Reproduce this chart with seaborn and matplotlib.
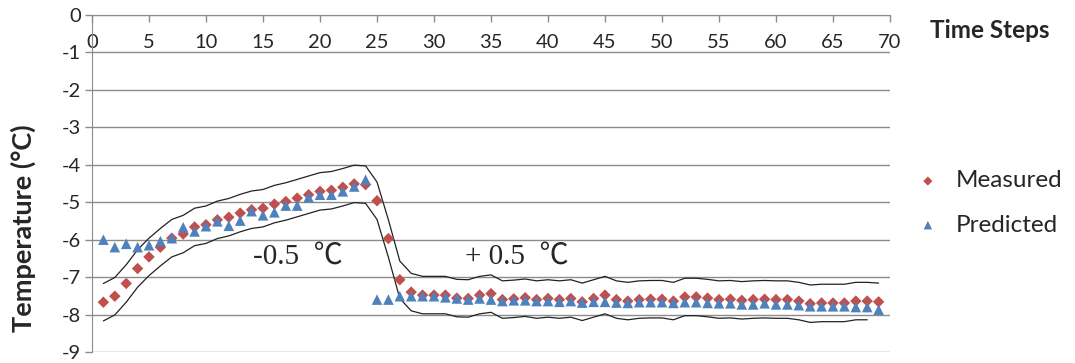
import matplotlib
matplotlib.use('Agg')
import matplotlib.pyplot as plt
import pandas as pd
import seaborn as sns

# values
time_steps = list(range(1, 70))
measured = [-7.67, -7.51, -7.17, -6.77, -6.46, -6.20, -5.96, -5.85, -5.66, -5.60,
            -5.47, -5.40, -5.29, -5.20, -5.16, -5.05, -4.98, -4.89, -4.80, -4.71,
            -4.68, -4.60, -4.51, -4.53, -4.96, -5.97, -7.07, -7.40, -7.48, -7.48,
            -7.48, -7.56, -7.57, -7.48, -7.44, -7.60, -7.58, -7.55, -7.60, -7.57,
            -7.60, -7.57, -7.66, -7.57, -7.48, -7.60, -7.64, -7.60, -7.59, -7.59,
            -7.64, -7.53, -7.53, -7.56, -7.60, -7.59, -7.62, -7.60, -7.59, -7.60,
            -7.60, -7.64, -7.71, -7.69, -7.69, -7.69, -7.64, -7.64, -7.66]
predicted = [-6.00, -6.20, -6.11, -6.20, -6.15, -6.04, -5.96, -5.67, -5.78, -5.64,
             -5.51, -5.63, -5.49, -5.24, -5.35, -5.27, -5.09, -5.09, -4.87, -4.80,
             -4.80, -4.71, -4.58, -4.40, -7.60, -7.60, -7.51, -7.51, -7.51, -7.51,
             -7.54, -7.57, -7.60, -7.57, -7.60, -7.64, -7.62, -7.62, -7.64, -7.64,
             -7.66, -7.64, -7.68, -7.66, -7.66, -7.68, -7.69, -7.67, -7.67, -7.67,
             -7.69, -7.67, -7.67, -7.69, -7.70, -7.70, -7.73, -7.73, -7.70, -7.73,
             -7.73, -7.75, -7.78, -7.78, -7.78, -7.78, -7.80, -7.80, -7.87]
tolerance = 0.5   # band drawn around the measured values (+/- 0.5 degC)
upper_last = 69   # upper band line runs to step 69
lower_last = 68   # lower band line stops at step 68
x_ticks = list(range(0, 75, 5))
y_ticks = list(range(-9, 1))

df = pd.DataFrame({'step': time_steps, 'measured': measured, 'predicted': predicted})
df['upper'] = df['measured'] + tolerance
df['lower'] = df['measured'] - tolerance

sns.set_style('white')
plt.rcParams['font.family'] = ['Lato', 'DejaVu Sans']
plt.rcParams['axes.unicode_minus'] = False

fig = plt.figure(figsize=(10.75, 3.63), dpi=100)
ax = fig.add_axes([92 / 1075, 1 - 352 / 363, 798 / 1075, 337 / 363])

grid_col = '#8c8c8c'
red = '#c0504d'
blue = '#4f81bd'

up = df[df['step'] <= upper_last]
lo = df[df['step'] <= lower_last]
sns.lineplot(x=up['step'], y=up['upper'], ax=ax, color='#222222', lw=0.9, legend=False)
sns.lineplot(x=lo['step'], y=lo['lower'], ax=ax, color='#222222', lw=0.9, legend=False)

sns.scatterplot(x=df['step'], y=df['measured'], ax=ax, marker='D', s=34, color=red,
                edgecolor='none', label='Measured', zorder=3)
sns.scatterplot(x=df['step'], y=df['predicted'], ax=ax, marker='^', s=58, color=blue,
                edgecolor='none', label='Predicted', zorder=4)

ax.set_xlim(0, 70)
ax.set_ylim(-9, 0)
ax.set_xticks(x_ticks)
ax.set_yticks(y_ticks)
ax.yaxis.grid(True, color=grid_col, lw=1)
ax.xaxis.grid(False)
ax.set_axisbelow(True)

for s in ['top', 'right']:
    ax.spines[s].set_visible(False)
ax.spines['left'].set_color(grid_col)
ax.spines['bottom'].set_color(grid_col)
ax.spines['bottom'].set_position(('data', 0))

ax.tick_params(axis='x', direction='out', length=5, width=1, color=grid_col,
               labelsize=14.5, pad=9, bottom=True)
ax.tick_params(axis='y', direction='out', length=5, width=1, color=grid_col,
               labelsize=14.5, pad=3, left=True)
ax.set_xlabel('')
ax.set_ylabel('')

ax.text(14.1, -6.44, '-0.5  \u2103', va='center', ha='left', fontsize=21,
        family=['Liberation Serif', 'Noto Sans CJK SC'])
ax.text(32.7, -6.44, '+ 0.5  \u2103', va='center', ha='left', fontsize=21,
        family=['Liberation Serif', 'Noto Sans CJK SC'])

fig.text(23 / 1075, 1 - 228 / 363, 'Temperature (°C)', rotation=90, ha='center',
         va='center', fontsize=19.5, fontweight='bold')
fig.text(930 / 1075, 1 - 30 / 363, 'Time Steps', ha='left', va='center',
         fontsize=17.5, fontweight='bold')

ax.legend(loc='center left', bbox_to_anchor=(906 / 1075, 1 - 203 / 363),
          bbox_transform=fig.transFigure, frameon=False, fontsize=17.5,
          borderpad=0.2, handlelength=0.4, handletextpad=0.95,
          labelspacing=0.95, markerscale=0.8)

fig.savefig('out.png', dpi=100)
